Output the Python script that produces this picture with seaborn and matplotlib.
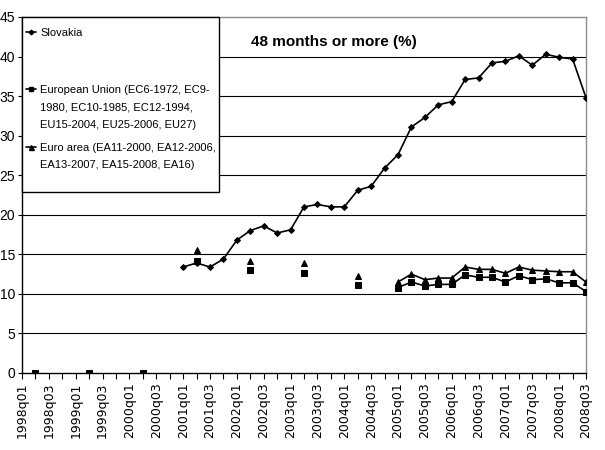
import numpy as np
import pandas as pd
import matplotlib
matplotlib.use("Agg")
import matplotlib.pyplot as plt
import seaborn as sns
from matplotlib.patches import Rectangle
from matplotlib.lines import Line2D

# ---------------- data ----------------
quarters = [f"{y}q0{q}" for y in range(1998, 2009) for q in range(1, 5)][:43]
tick_labels = [q if i % 2 == 0 else "" for i, q in enumerate(quarters)]

nan = np.nan
slovakia = [nan] * 12 + [
    13.4, 13.9, 13.4, 14.4,
    16.8, 18.0, 18.6, 17.7,
    18.1, 21.0, 21.3, 21.0,
    21.0, 23.1, 23.6, 25.9,
    27.6, 31.1, 32.3, 33.9,
    34.3, 37.1, 37.3, 39.2,
    39.4, 40.1, 38.9, 40.3,
    39.9, 39.7, 34.8,
]
european_union = [
    nan, 0.0, nan, nan,
    nan, 0.0, nan, nan,
    nan, 0.0, nan, nan,
    nan, 14.2, nan, nan,
    nan, 13.0, nan, nan,
    nan, 12.6, nan, nan,
    nan, 11.1, nan, nan,
    10.8, 11.5, 11.0, 11.2,
    11.2, 12.4, 12.1, 12.1,
    11.5, 12.3, 11.8, 11.9,
    11.4, 11.4, 10.3,
]
euro_area = [
    nan, nan, nan, nan,
    nan, nan, nan, nan,
    nan, nan, nan, nan,
    nan, 15.6, nan, nan,
    nan, 14.2, nan, nan,
    nan, 13.9, nan, nan,
    nan, 12.2, nan, nan,
    11.5, 12.5, 11.8, 12.0,
    12.0, 13.4, 13.1, 13.1,
    12.6, 13.4, 13.0, 12.9,
    12.8, 12.8, 11.5,
]

series_names = [
    "Slovakia",
    "European Union (EC6-1972, EC9-\n1980, EC10-1985, EC12-1994,\nEU15-2004, EU25-2006, EU27)",
    "Euro area (EA11-2000, EA12-2006,\nEA13-2007, EA15-2008, EA16)",
]
title_text = "48 months or more (%)"

# ---------------- style ----------------
sns.set_theme(style="white")
plt.rcParams["font.family"] = ["Liberation Sans", "DejaVu Sans"]

fig = plt.figure(figsize=(6.05, 4.5), dpi=100)
ax = fig.add_axes([22 / 605, 1 - 373 / 450, 564 / 605, 356 / 450])

markers = ["D", "s", "^"]
msizes = [3.0, 4.2, 4.5]
all_series = [slovakia, european_union, euro_area]

x_idx = np.arange(len(quarters))
for vals, mk, ms in zip(all_series, markers, msizes):
    df = pd.DataFrame({"x": x_idx, "y": vals})
    valid = df["y"].notna()
    seg = (valid != valid.shift()).cumsum()
    df["seg"] = seg
    df = df[valid]
    for _, part in df.groupby("seg"):
        sns.lineplot(data=part, x="x", y="y", ax=ax, color="black",
                     linewidth=1.2, marker=mk, markersize=ms,
                     markeredgecolor="black", markerfacecolor="black",
                     zorder=3, legend=False)

# axes
ax.set_xlim(0, len(quarters) - 1)
ax.set_ylim(0, 45)
ax.set_xlabel("")
ax.set_ylabel("")
ax.set_xticks(x_idx)
ax.set_xticklabels(tick_labels, rotation=90, fontsize=9,
                   family=["DejaVu Sans"])
ax.set_yticks(np.arange(0, 46, 5))
ax.set_yticklabels([str(v) for v in range(0, 46, 5)], fontsize=10)
ax.tick_params(axis="x", direction="out", length=4, width=0.8, pad=3,
               colors="black", bottom=True)
ax.tick_params(axis="y", direction="out", length=3, width=0.8, pad=2,
               colors="black", left=True)
for v in range(5, 45, 5):
    ax.axhline(v, color="black", linewidth=0.8, zorder=1)

for s in ["left", "bottom"]:
    ax.spines[s].set_color("black")
    ax.spines[s].set_linewidth(1.0)
for s in ["top", "right"]:
    ax.spines[s].set_color("#8c8c8c")
    ax.spines[s].set_linewidth(1.0)

# title box
ax.text(0.553, 0.929, title_text, transform=ax.transAxes, ha="center",
        va="center", fontsize=11, fontweight="bold", color="black",
        bbox=dict(facecolor="white", edgecolor="none", pad=4), zorder=4)

# legend (manual, Excel-like)
ax.add_patch(Rectangle((0, 0.508), 0.349, 0.492, transform=ax.transAxes,
                       facecolor="white", edgecolor="black", linewidth=1,
                       zorder=5, clip_on=False))
leg_y = [0.957, 0.797, 0.636]
px = 1 / 356
for name, y, mk, ms in zip(series_names, leg_y, markers, msizes):
    ax.add_line(Line2D([0.0071, 0.0248], [y, y], transform=ax.transAxes,
                       color="black", linewidth=1.2, zorder=6, clip_on=False))
    ax.add_line(Line2D([0.016], [y], transform=ax.transAxes, marker=mk,
                       markersize=ms * 0.8, color="black", zorder=6,
                       clip_on=False))
    ax.text(0.032, y + 4 * px, name, transform=ax.transAxes, ha="left",
            va="top", fontsize=8, linespacing=1.9,
            color="black", zorder=6)

fig.savefig("out.png", dpi=100)
